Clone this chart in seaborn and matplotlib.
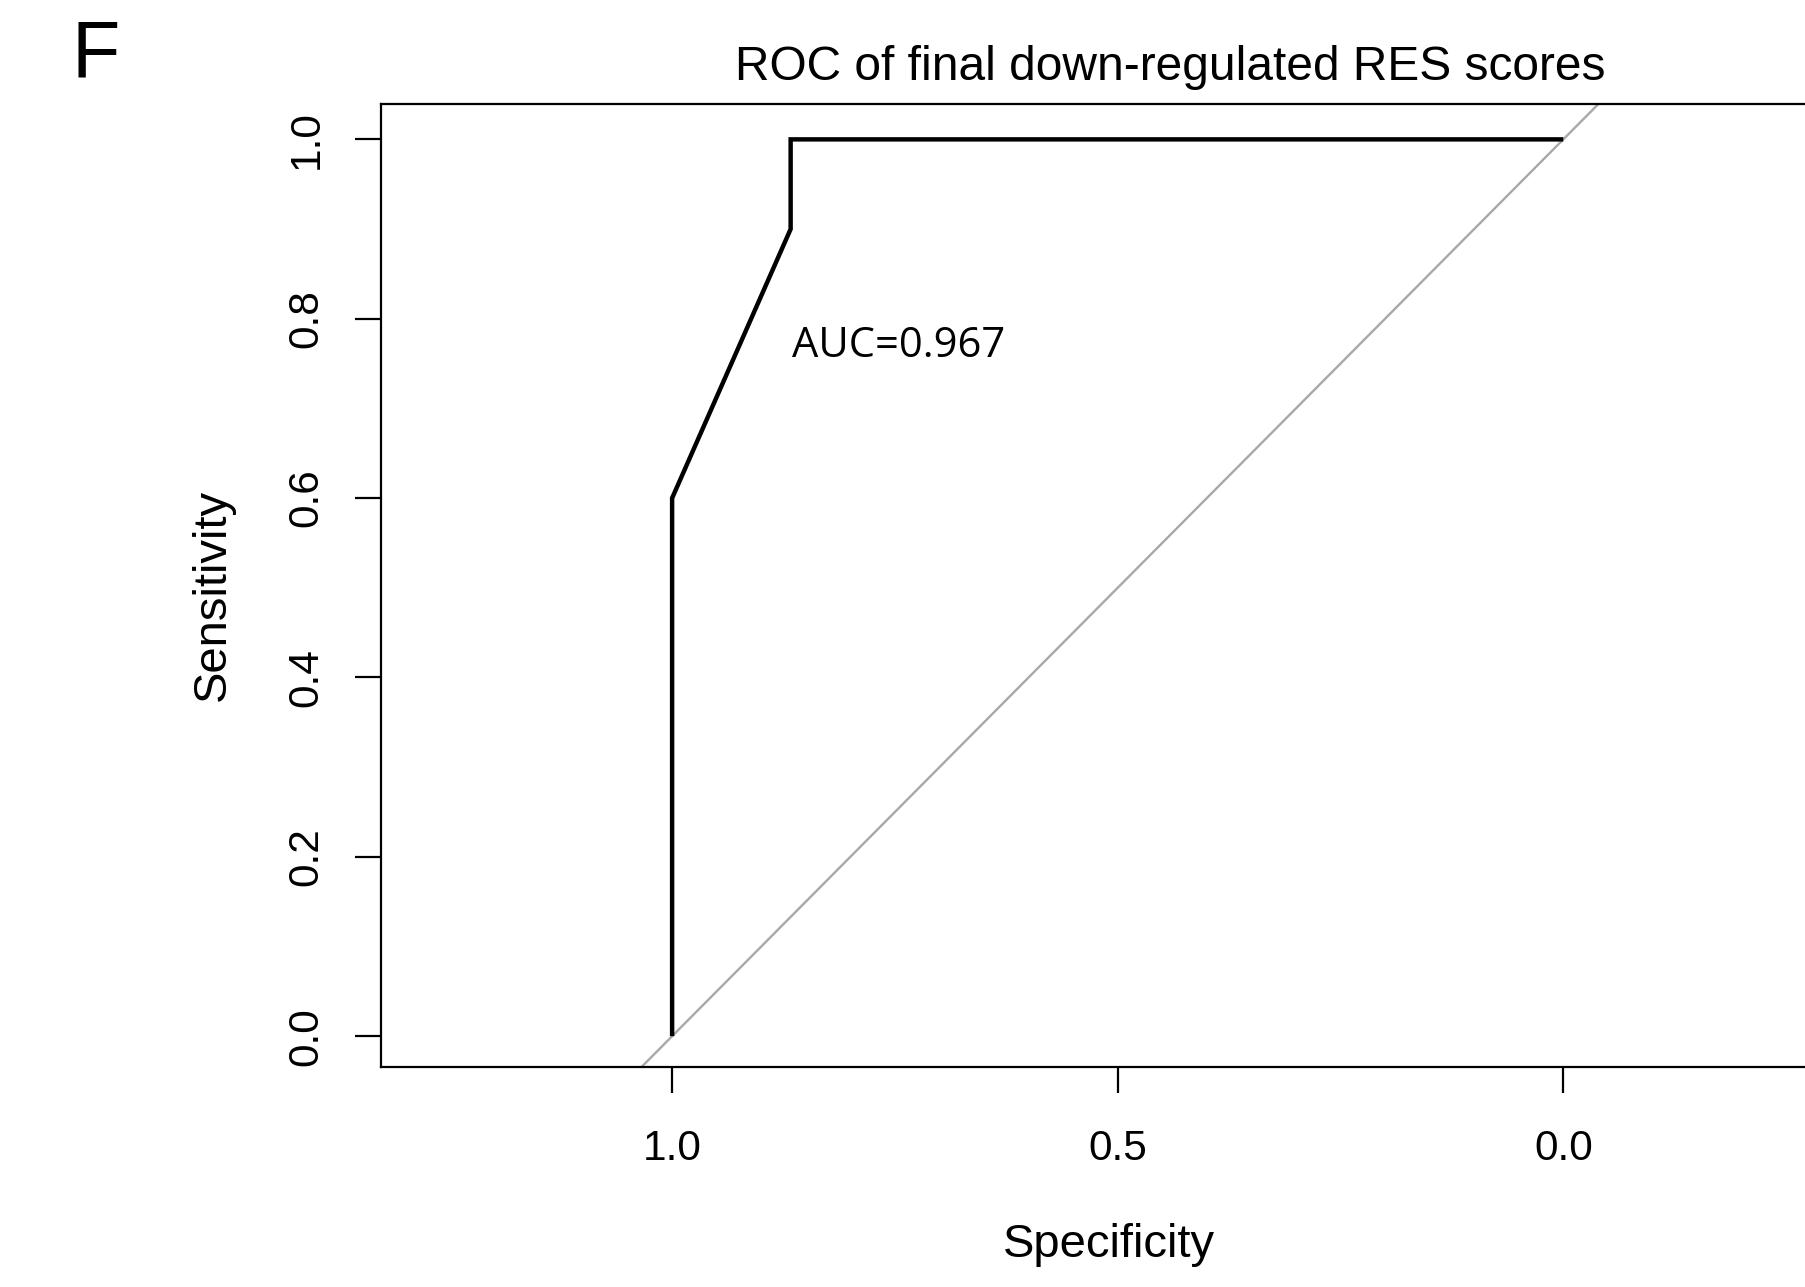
import matplotlib
matplotlib.use("Agg")
import matplotlib.pyplot as plt
import seaborn as sns
import pandas as pd

# ROC curve points (specificity, sensitivity)
specificity = [1.0, 1.0, 0.867, 0.867, 0.0]
sensitivity = [0.0, 0.6, 0.9, 1.0, 1.0]
x_ticks = [1.0, 0.5, 0.0]
x_tick_labels = ["1.0", "0.5", "0.0"]
y_ticks = [0.0, 0.2, 0.4, 0.6, 0.8, 1.0]
y_tick_labels = ["0.0", "0.2", "0.4", "0.6", "0.8", "1.0"]
title = "ROC of final down-regulated RES scores"
auc_label = "AUC=0.967"
panel_label = "F"

sns.set_theme(style="white")
plt.rcParams["font.family"] = ["Liberation Sans", "DejaVu Sans"]
plt.rcParams["text.color"] = "black"
plt.rcParams["xtick.color"] = "black"
plt.rcParams["ytick.color"] = "black"
plt.rcParams["axes.labelcolor"] = "black"

W, H = 1805, 1287
fig = plt.figure(figsize=(W / 100, H / 100), dpi=100)
fig.patch.set_facecolor("white")

left, right, bottom, top = 380.7, 1854.7, 1066.7, 103.5
ax = fig.add_axes([left / W, 1 - bottom / H, (right - left) / W, (bottom - top) / H])
ax.set_facecolor("white")

df = pd.DataFrame({"Specificity": specificity, "Sensitivity": sensitivity})

ax.axline((1.0, 0.0), (0.0, 1.0), color="#a8a8a8", lw=1.7, zorder=1)
sns.lineplot(data=df, x="Specificity", y="Sensitivity", sort=False, estimator=None,
             color="black", lw=3.2, ax=ax, zorder=3)
for l in ax.lines:
    l.set_solid_joinstyle("miter")
    l.set_solid_capstyle("butt")

ax.set_xlim(1.327, -0.327)
ax.set_ylim(-0.034, 1.040)

ax.set_xticks(x_ticks)
ax.set_xticklabels(x_tick_labels)
ax.set_yticks(y_ticks)
ax.set_yticklabels(y_tick_labels, rotation=90, va="center")
ax.tick_params(axis="both", which="both", direction="out", length=19, width=1.6,
               color="black", labelcolor="black", labelsize=30.5, left=True, bottom=True)
ax.tick_params(axis="x", pad=26)
for t in ax.get_yticklabels():
    t.set_rotation_mode("anchor")
    t.set_ha("center")
    t.set_va("bottom")
ax.tick_params(axis="y", pad=20)

for s in ax.spines.values():
    s.set_color("black")
    s.set_linewidth(1.6)
    s.set_visible(True)

ax.set_xlabel("")
ax.set_ylabel("")
fig.text(1109 / W, 1 - 1245 / H, "Specificity", fontsize=34, ha="center", va="center")
fig.text(213 / W, 1 - 595 / H, "Sensitivity", fontsize=34, ha="center", va="center", rotation=90)
fig.text(1170 / W, 1 - 67 / H, title, fontsize=34.5, ha="center", va="center")
fig.text(96 / W, 1 - 56 / H, panel_label, fontsize=57, ha="center", va="center")

ax.text(0.865, 0.757, auc_label, fontsize=30, family=["Open Sans", "DejaVu Sans"],
        ha="left", va="baseline", zorder=4)

fig.savefig("out.png", dpi=100, facecolor="white")
